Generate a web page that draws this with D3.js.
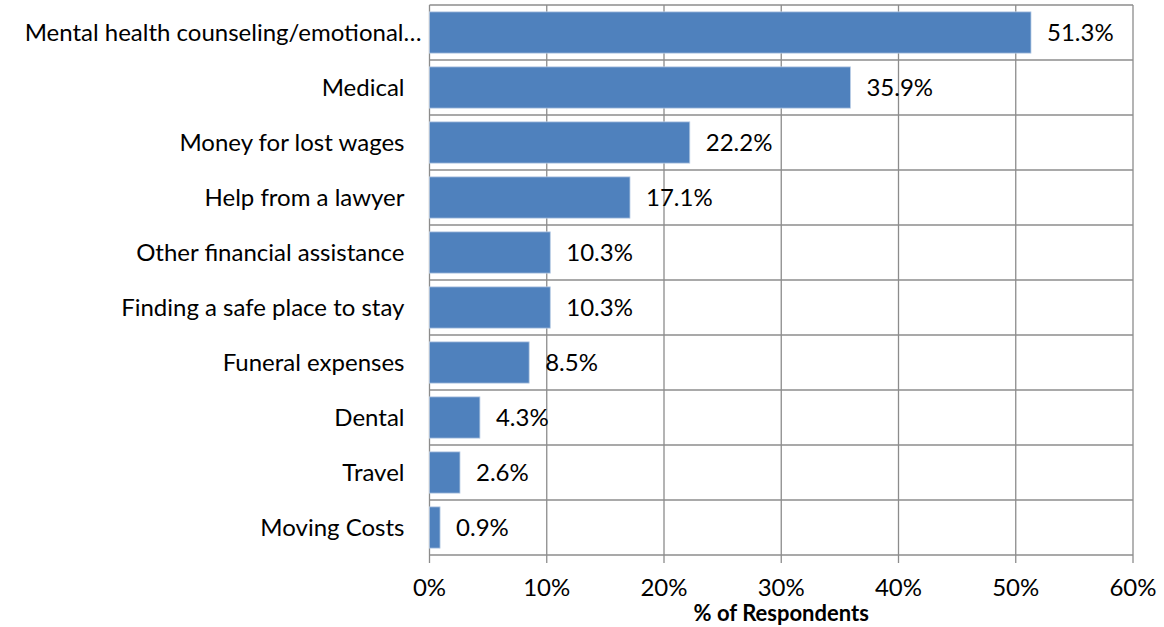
<!DOCTYPE html>
<meta charset="utf-8">
<style>
body { margin: 0; background: #fff; }
text { font-family: Lato, "Open Sans", sans-serif; fill: #000; }
.grid line { stroke: #8c8c8c; stroke-width: 1.3; fill: none; }
.bar { fill: #4f81bd; stroke: #b9cde5; stroke-width: 0.8; }
</style>
<svg width="1164" height="627"></svg>
<script src="https://cdn.jsdelivr.net/npm/d3@7"></script>
<script>

var categories = ["Mental health counseling/emotional\u2026", "Medical", "Money for lost wages",
                  "Help from a lawyer", "Other financial assistance", "Finding a safe place to stay",
                  "Funeral expenses", "Dental", "Travel", "Moving Costs"];
var values = [51.3, 35.9, 22.2, 17.1, 10.3, 10.3, 8.5, 4.3, 2.6, 0.9];
var xTicks = [0, 10, 20, 30, 40, 50, 60];
var xTitle = "% of Respondents";

var svg = d3.select("svg"),
    margin = {top: 5, right: 31, bottom: 72, left: 429.5},
    width = +svg.attr("width") - margin.left - margin.right,
    height = +svg.attr("height") - margin.top - margin.bottom;

var fs = "24px";

var x = d3.scaleLinear().domain([0, 60]).range([0, width]),
    y = d3.scaleBand().domain(categories).range([0, height]).paddingInner(0.25).paddingOuter(0.125);

var g = svg.append("g")
    .attr("transform", "translate(" + margin.left + "," + margin.top + ")");

// vertical gridlines + ticks below
var vg = g.append("g").attr("class", "grid");
vg.selectAll(".v").data(xTicks).enter().append("line")
    .attr("x1", function(d) { return x(d); })
    .attr("x2", function(d) { return x(d); })
    .attr("y1", 0)
    .attr("y2", height + 8);

// horizontal gridlines at category boundaries
var step = y.step();
vg.selectAll(".h").data(d3.range(categories.length + 1)).enter().append("line")
    .attr("x1", 0)
    .attr("x2", width)
    .attr("y1", function(i) { return i * step; })
    .attr("y2", function(i) { return i * step; });

g.selectAll(".bar")
    .data(values)
  .enter().append("rect")
    .attr("class", "bar")
    .attr("x", 0)
    .attr("y", function(d, i) { return y(categories[i]); })
    .attr("width", function(d) { return x(d); })
    .attr("height", y.bandwidth());

g.selectAll(".val")
    .data(values)
  .enter().append("text")
    .attr("x", function(d) { return x(d) + 16; })
    .attr("y", function(d, i) { return y(categories[i]) + y.bandwidth() / 2; })
    .attr("dy", "0.35em")
    .style("font-size", fs)
    .text(function(d) { return d.toFixed(1) + "%"; });

g.selectAll(".cat")
    .data(categories)
  .enter().append("text")
    .attr("x", function(d) { return /\u2026$/.test(d) ? -8 : -25; })
    .attr("y", function(d) { return y(d) + y.bandwidth() / 2; })
    .attr("dy", "0.35em")
    .attr("text-anchor", "end")
    .style("font-size", fs)
    .text(function(d) { return d; });

g.selectAll(".tick")
    .data(xTicks)
  .enter().append("text")
    .attr("x", function(d) { return x(d); })
    .attr("y", height + 41)
    .attr("text-anchor", "middle")
    .style("font-size", fs)
    .text(function(d) { return d + "%"; });

g.append("text")
    .attr("x", width / 2)
    .attr("y", height + 66)
    .attr("text-anchor", "middle")
    .style("font-size", "22px")
    .style("font-weight", "bold")
    .text(xTitle);

</script>
